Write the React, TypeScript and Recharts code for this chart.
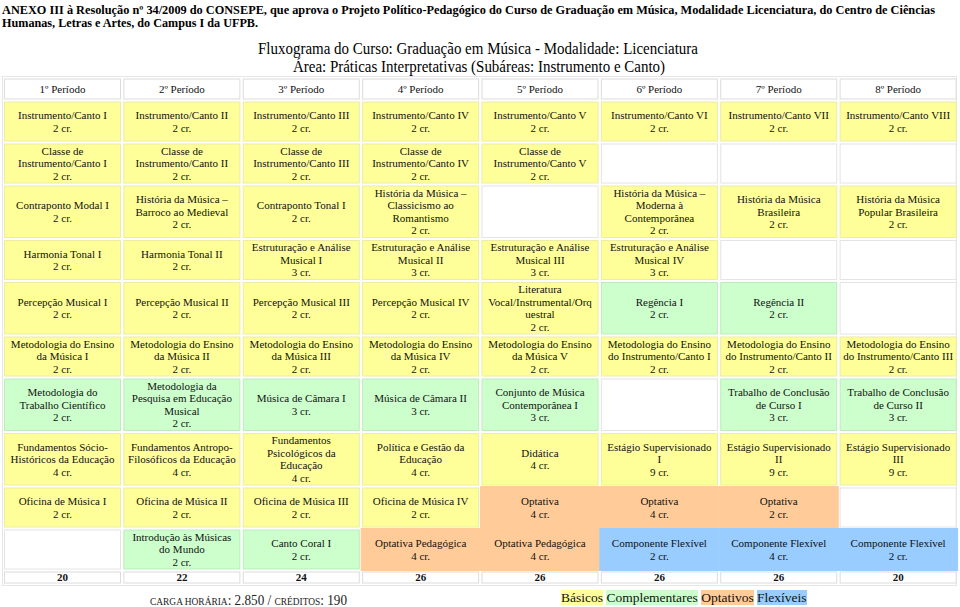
import { BarChart, Bar, XAxis, YAxis } from 'recharts';

// b = Básicos, c = Complementares, o = Optativos, f = Flexíveis
type Kind = 'b' | 'c' | 'o' | 'f';
type Cell = [string, number, Kind] | null;

const periods = [
  '1º Período', '2º Período', '3º Período', '4º Período',
  '5º Período', '6º Período', '7º Período', '8º Período',
];

const rowInstrumento: Cell[] = [
  ['Instrumento/Canto I', 2, 'b'],
  ['Instrumento/Canto II', 2, 'b'],
  ['Instrumento/Canto III', 2, 'b'],
  ['Instrumento/Canto IV', 2, 'b'],
  ['Instrumento/Canto V', 2, 'b'],
  ['Instrumento/Canto VI', 2, 'b'],
  ['Instrumento/Canto VII', 2, 'b'],
  ['Instrumento/Canto VIII', 2, 'b'],
];

const rowClasse: Cell[] = [
  ['Classe de\nInstrumento/Canto I', 2, 'b'],
  ['Classe de\nInstrumento/Canto II', 2, 'b'],
  ['Classe de\nInstrumento/Canto III', 2, 'b'],
  ['Classe de\nInstrumento/Canto IV', 2, 'b'],
  ['Classe de\nInstrumento/Canto V', 2, 'b'],
  null,
  null,
  null,
];

const rowHistoria: Cell[] = [
  ['Contraponto Modal I', 2, 'b'],
  ['História da Música –\nBarroco ao Medieval', 2, 'b'],
  ['Contraponto Tonal I', 2, 'b'],
  ['História da Música –\nClassicismo ao\nRomantismo', 2, 'b'],
  null,
  ['História da Música –\nModerna à\nContemporânea', 2, 'b'],
  ['História da Música\nBrasileira', 2, 'b'],
  ['História da Música\nPopular Brasileira', 2, 'b'],
];

const rowHarmonia: Cell[] = [
  ['Harmonia Tonal I', 2, 'b'],
  ['Harmonia Tonal II', 2, 'b'],
  ['Estruturação e Análise\nMusical I', 3, 'b'],
  ['Estruturação e Análise\nMusical II', 3, 'b'],
  ['Estruturação e Análise\nMusical III', 3, 'b'],
  ['Estruturação e Análise\nMusical IV', 3, 'b'],
  null,
  null,
];

const rowPercepcao: Cell[] = [
  ['Percepção Musical I', 2, 'b'],
  ['Percepção Musical II', 2, 'b'],
  ['Percepção Musical III', 2, 'b'],
  ['Percepção Musical IV', 2, 'b'],
  ['Literatura\nVocal/Instrumental/Orq\nuestral', 2, 'b'],
  ['Regência I', 2, 'c'],
  ['Regência II', 2, 'c'],
  null,
];

const rowMetodologia: Cell[] = [
  ['Metodologia do Ensino\nda Música I', 2, 'b'],
  ['Metodologia do Ensino\nda Música II', 2, 'b'],
  ['Metodologia do Ensino\nda Música III', 2, 'b'],
  ['Metodologia do Ensino\nda Música IV', 2, 'b'],
  ['Metodologia do Ensino\nda Música V', 2, 'b'],
  ['Metodologia do Ensino\ndo Instrumento/Canto I', 2, 'b'],
  ['Metodologia do Ensino\ndo Instrumento/Canto II', 2, 'b'],
  ['Metodologia do Ensino\ndo Instrumento/Canto III', 2, 'b'],
];

const rowCamara: Cell[] = [
  ['Metodologia do\nTrabalho Científico', 2, 'c'],
  ['Metodologia da\nPesquisa em Educação\nMusical', 2, 'c'],
  ['Música de Câmara I', 3, 'c'],
  ['Música de Câmara II', 3, 'c'],
  ['Conjunto de Música\nContemporânea I', 3, 'c'],
  null,
  ['Trabalho de Conclusão\nde Curso I', 3, 'c'],
  ['Trabalho de Conclusão\nde Curso II', 3, 'c'],
];

const rowFundamentos: Cell[] = [
  ['Fundamentos Sócio-\nHistóricos da Educação', 4, 'b'],
  ['Fundamentos Antropo-\nFilosóficos da Educação', 4, 'b'],
  ['Fundamentos\nPsicológicos da\nEducação', 4, 'b'],
  ['Política e Gestão da\nEducação', 4, 'b'],
  ['Didática', 4, 'b'],
  ['Estágio Supervisionado\nI', 9, 'b'],
  ['Estágio Supervisionado\nII', 9, 'b'],
  ['Estágio Supervisionado\nIII', 9, 'b'],
];

const rowOficina: Cell[] = [
  ['Oficina de Música I', 2, 'b'],
  ['Oficina de Música II', 2, 'b'],
  ['Oficina de Música III', 2, 'b'],
  ['Oficina de Música IV', 2, 'b'],
  ['Optativa', 4, 'o'],
  ['Optativa', 4, 'o'],
  ['Optativa', 2, 'o'],
  null,
];

const rowOutros: Cell[] = [
  null,
  ['Introdução às Músicas\ndo Mundo', 2, 'c'],
  ['Canto Coral I', 2, 'c'],
  ['Optativa Pedagógica', 4, 'o'],
  ['Optativa Pedagógica', 4, 'o'],
  ['Componente Flexível', 2, 'f'],
  ['Componente Flexível', 4, 'f'],
  ['Componente Flexível', 2, 'f'],
];

const totals = [20, 22, 24, 26, 26, 26, 26, 20];

const rows: Cell[][] = [
  rowInstrumento, rowClasse, rowHistoria, rowHarmonia, rowPercepcao,
  rowMetodologia, rowCamara, rowFundamentos, rowOficina, rowOutros,
];

const FILL: Record<Kind, string> = { b: '#ffff99', c: '#ccffcc', o: '#ffcc99', f: '#99ccff' };
const EDGE: Record<Kind, string> = { b: '#ececa4', c: '#bdebbd', o: '#ffcc99', f: '#99ccff' };
const FONT = '"Liberation Serif", "Times New Roman", serif';
const LINE = 12.5;

// row heights follow the text, like the html table did
const linesOf = (c: Cell) => (c ? c[0].split('\n').length + 1 : 0);
const rowHeights = rows.map((r) => Math.max(3, ...r.map(linesOf)) * LINE + 4.5);
const heights = [23, ...rowHeights, 14];
const keys = heights.map((_, i) => 'row' + i);
const TOTAL = heights.reduce((a, b) => a + b, 0);
const TOP = 77.5;

const chartData = periods.map((p, col) => {
  const point: Record<string, string | number> = { period: p, col };
  keys.forEach((k, i) => (point[k] = heights[i]));
  return point;
});

function CellText({ cx, cy, lines, bold }: { cx: number; cy: number; lines: string[]; bold?: boolean }) {
  const y0 = cy - ((lines.length - 1) * LINE) / 2 + 3.8;
  return (
    <text textAnchor="middle" fontFamily={FONT} fontSize={11} fontWeight={bold ? 'bold' : 'normal'} fill="#111">
      {lines.map((l, i) => (
        <tspan key={i} x={cx} y={y0 + i * LINE}>
          {l}
        </tspan>
      ))}
    </text>
  );
}

const makeShape = (rowIdx: number) => (props: any) => {
  let { x, y, width, height } = props;
  const col = props.payload?.col ?? props.index;
  if (height < 0) {
    y += height;
    height = -height;
  }
  const cx = x + width / 2;
  const cy = y + height / 2;

  if (rowIdx === 0 || rowIdx === heights.length - 1) {
    const label = rowIdx === 0 ? periods[col] : String(totals[col]);
    return (
      <g>
        <rect x={x + 1.5} y={y + 1.5} width={width - 3} height={height - 3} fill="#fff" stroke="#dcdcdc" />
        <CellText cx={cx} cy={cy} lines={[label]} bold={rowIdx !== 0} />
      </g>
    );
  }

  const cell = rows[rowIdx - 1][col];
  if (!cell) {
    return <rect x={x + 1.5} y={y + 1.5} width={width - 3} height={height - 3} fill="#fff" stroke="#e4e4e4" />;
  }
  const [name, cr, kind] = cell;
  const inset = kind === 'o' || kind === 'f' ? 0 : 1.5;
  return (
    <g>
      <rect
        x={x + inset}
        y={y + inset}
        width={width - inset * 2}
        height={height - inset * 2}
        fill={FILL[kind]}
        stroke={EDGE[kind]}
      />
      <CellText cx={cx} cy={cy} lines={[...name.split('\n'), `${cr} cr.`]} />
    </g>
  );
};

export default function App() {
  return (
    <div style={{ position: 'absolute', left: 0, top: 0, width: 960, height: 607, background: '#fff', fontFamily: FONT }}>
      <div
        style={{
          position: 'absolute',
          left: 2,
          top: TOP - 2,
          width: 955,
          height: TOTAL + 3,
          border: '1px solid #e6e6e6',
          boxSizing: 'border-box',
        }}
      />
      <svg width={960} height={80} style={{ position: 'absolute', left: 0, top: 0 }}>
        <text x={2} y={13.5} fontFamily={FONT} fontSize={12.5} fontWeight="bold" textLength={933} lengthAdjust="spacingAndGlyphs">
          ANEXO III à Resolução nº 34/2009 do CONSEPE, que aprova o Projeto Político-Pedagógico do Curso de  Graduação em Música, Modalidade Licenciatura, do Centro de Ciências
        </text>
        <text x={2} y={27} fontFamily={FONT} fontSize={12.5} fontWeight="bold" textLength={256} lengthAdjust="spacingAndGlyphs">
          Humanas, Letras e Artes, do Campus I da UFPB.
        </text>
        <text x={258} y={54} fontFamily={FONT} fontSize={16} textLength={440} lengthAdjust="spacingAndGlyphs">
          Fluxograma do Curso: Graduação em Música - Modalidade: Licenciatura
        </text>
        <text x={293} y={72} fontFamily={FONT} fontSize={16} textLength={372} lengthAdjust="spacingAndGlyphs">
          Área: Práticas Interpretativas (Subáreas: Instrumento e Canto)
        </text>
      </svg>
      <div style={{ position: 'absolute', left: 0, top: 0 }}>
        <BarChart
          width={960}
          height={607}
          data={chartData}
          margin={{ top: TOP, right: 2, bottom: 607 - TOP - TOTAL, left: 3 }}
          barCategoryGap={0}
        >
          <XAxis dataKey="period" type="category" hide />
          <YAxis type="number" domain={[0, TOTAL]} reversed hide />
          {keys.map((k, i) => (
            <Bar key={k} dataKey={k} stackId="t" isAnimationActive={false} shape={makeShape(i)} />
          ))}
        </BarChart>
      </div>
      <svg width={960} height={607} style={{ position: 'absolute', left: 0, top: 0, pointerEvents: 'none' }}>
        <text x={150} y={605} fontFamily={FONT} fill="#222" textLength={197} lengthAdjust="spacingAndGlyphs">
          <tspan fontSize={10}>CARGA HORÁRIA</tspan>
          <tspan fontSize={14}>: 2.850 / </tspan>
          <tspan fontSize={10}>CRÉDITOS</tspan>
          <tspan fontSize={14}>: 190</tspan>
        </text>
      </svg>
      <div
        style={{
          position: 'absolute',
          left: 561,
          top: 590,
          fontSize: 13.5,
          lineHeight: '16px',
          whiteSpace: 'nowrap',
          color: '#111',
        }}
      >
        <span style={{ background: FILL.b }}>Básicos</span> <span style={{ background: FILL.c }}>Complementares</span>{' '}
        <span style={{ background: FILL.o }}>Optativos</span> <span style={{ background: FILL.f }}>Flexíveis</span>
      </div>
    </div>
  );
}
